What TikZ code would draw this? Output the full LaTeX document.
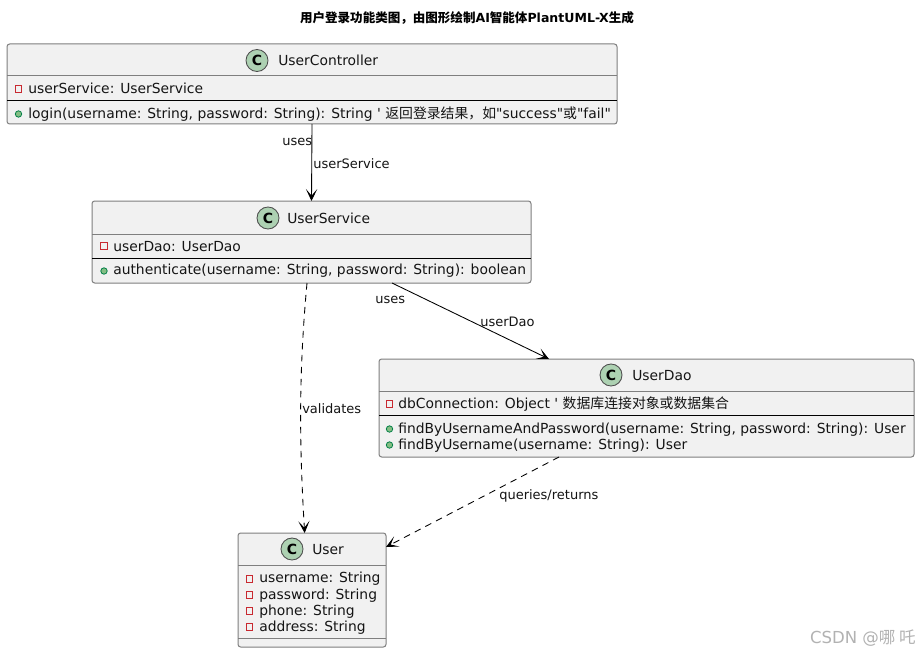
\documentclass[tikz,border=0pt]{standalone}
\usepackage{fontspec}
\usetikzlibrary{arrows.meta}
\newfontfamily\djv{DejaVu Sans}
\newfontfamily\cjk{Noto Sans CJK SC}
\definecolor{boxfill}{HTML}{F1F1F1}
\definecolor{boxline}{HTML}{7F7F7F}
\definecolor{iconfill}{HTML}{ADD1B2}
\definecolor{privred}{HTML}{C82930}
\definecolor{pubfill}{HTML}{84BE84}
\definecolor{publine}{HTML}{038048}
\newcommand{\privmark}[2]{\draw[privred,line width=0.6pt] (#1-3.2,#2-3.2) rectangle (#1+3.2,#2+3.2);}
\newcommand{\pubmark}[2]{\draw[publine,fill=pubfill,line width=0.6pt] (#1,#2) circle[radius=3.2];}
\newcommand{\classicon}[3]{\node[iconshape] (#1) at (#2,#3) {\fontsize{10.5pt}{12pt}\djv\bfseries C};}
\tikzset{
  x=0.75pt,y=-0.75pt,
  classbox/.style={draw=boxline,fill=boxfill,line width=0.75pt,rounded corners=2pt,anchor=north west,inner sep=0pt,outer sep=0pt},
  iconshape/.style={circle,draw=black!70,fill=iconfill,line width=0.65pt,minimum size=16.5pt,inner sep=0pt},
  member/.style={anchor=base west,inner sep=0pt,font=\fontsize{10.4pt}{12pt}\djv,text=black!92},
  classname/.style={anchor=base west,inner sep=0pt,font=\fontsize{10.4pt}{12pt}\djv,text=black!92},
  edgelabel/.style={anchor=base west,inner sep=0pt,font=\fontsize{9.75pt}{12pt}\djv,text=black!92},
  conn/.style={line width=0.65pt,-{Stealth[length=9pt,width=8.5pt,inset=5pt]}},
  graydiv/.style={draw=boxline,line width=0.75pt},
  blackdiv/.style={draw=black,line width=0.7pt},
}
\begin{document}
\begin{tikzpicture}
\useasboundingbox (0,0) rectangle (919,652);
\fill[white] (0,0) rectangle (919,652);

\node[anchor=base,inner sep=0pt,font=\fontsize{11.3pt}{12pt}\djv\bfseries] (title) at (467,23)
  {\fontsize{9.4pt}{12pt}\selectfont{\cjk\fontsize{9.4pt}{12pt}\selectfont\bfseries 用户登录功能类图，由图形绘制}AI{\cjk\bfseries 智能体}PlantUML-X{\cjk\bfseries 生成}};

% boxes
\node[classbox,minimum width=457.5pt,minimum height=60pt] (uc) at (7,44) {};
\node[classbox,minimum width=329.25pt,minimum height=61.5pt] (us) at (92,201) {};
\node[classbox,minimum width=401.25pt,minimum height=73.5pt] (ud) at (379,359) {};
\node[classbox,minimum width=111pt,minimum height=85.5pt] (um) at (238,533) {};

% connectors
\draw[conn] (uc.south) -- (us.north);
\draw[conn] ([xshift=225pt]us.south west) -- ([xshift=127.5pt]ud.north west);
\draw[conn,dash pattern=on 5pt off 4pt] ([xshift=161.25pt]us.south west) .. controls (299,370) and (299,440) .. ([xshift=50pt]um.north west);
\draw[conn,dash pattern=on 5pt off 4pt] ([xshift=135pt]ud.south west) -- ([yshift=-10.5pt]um.north east);

% dividers
\draw[graydiv] (7,76) -- (617,76);
\draw[blackdiv] (7,100) -- (617,100);
\draw[graydiv] (92,234) -- (531,234);
\draw[blackdiv] (92,258) -- (531,258);
\draw[graydiv] (379,391.5) -- (914,391.5);
\draw[blackdiv] (379,415) -- (914,415);
\draw[graydiv] (238,565) -- (386,565);
\draw[graydiv] (238,638) -- (386,638);

% UserController
\classicon{icuc}{257}{60.5}
\node[classname] (nuc) at (278,66) {UserController};
\privmark{18.5}{89}
\node[member] (uc1) at (28,94) {userService: UserService};
\pubmark{18.5}{114}
\node[member] (uc2) at (28,119) {login(username: String, password: String): String ' {\cjk 返回登录结果，如}"success"{\cjk 或}"fail"};

% UserService
\classicon{icus}{268}{218}
\node[classname] (nus) at (287,223) {UserService};
\privmark{104}{246}
\node[member] (us1) at (113,251) {userDao: UserDao};
\pubmark{104}{271}
\node[member] (us2) at (113,274.5) {authenticate(username: String, password: String): boolean};

% UserDao
\classicon{icud}{611}{375}
\node[classname] (nud) at (632,380) {UserDao};
\privmark{389.5}{404}
\node[member] (ud1) at (398,408) {dbConnection: Object ' {\cjk 数据库连接对象或数据集合}};
\pubmark{389.5}{429}
\node[member] (ud2) at (398,433) {findByUsernameAndPassword(username: String, password: String): User};
\pubmark{389.5}{445}
\node[member] (ud3) at (398,449) {findByUsername(username: String): User};

% User
\classicon{icum}{292}{549}
\node[classname] (num) at (312,554) {User};
\privmark{249.5}{579}
\node[member] (um1) at (259,582) {username: String};
\privmark{249.5}{595}
\node[member] (um2) at (259,599) {password: String};
\privmark{249.5}{611}
\node[member] (um3) at (259,615) {phone: String};
\privmark{249.5}{627}
\node[member] (um4) at (259,631) {address: String};

% edge labels
\node[edgelabel] (l1) at (282,146) {uses};
\node[edgelabel] (l2) at (313,169) {userService};
\node[edgelabel] (l3) at (375,303) {uses};
\node[edgelabel] (l4) at (480,326) {userDao};
\node[edgelabel] (l5) at (302,413) {validates};
\node[edgelabel] (l6) at (499,499) {queries/returns};

% watermark
\node[anchor=base east,inner sep=0pt,text=black!30,font=\fontsize{12.4pt}{14pt}\djv] (wm) at (916,643) {CSDN @{\cjk 哪 吒}};
\end{tikzpicture}
\end{document}
